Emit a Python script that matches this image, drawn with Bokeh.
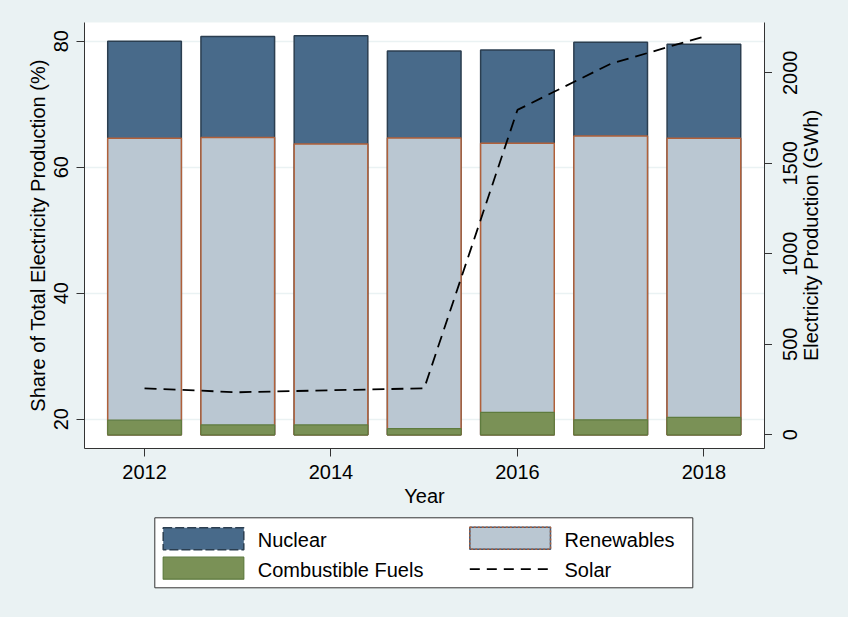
import math
from bokeh.plotting import figure
from bokeh.models import ColumnDataSource, Range1d, LinearAxis, FixedTicker
from bokeh.layouts import column, row
from bokeh.core.properties import value
from bokeh.embed import file_html
from bokeh.resources import INLINE

# ---------------- data ----------------
years = [2012, 2013, 2014, 2015, 2016, 2017, 2018]
nuclear = [80.0, 80.75, 80.85, 78.45, 78.6, 79.85, 79.5]
renewables = [64.6, 64.7, 63.7, 64.65, 63.8, 64.95, 64.6]
combustible = [19.85, 19.1, 19.1, 18.5, 21.1, 19.9, 20.3]
solar = [257, 235, 246, 257, 1795, 2050, 2200]

x_ticks = [2012, 2014, 2016, 2018]
left_ticks = [20, 40, 60, 80]
right_ticks = [0, 500, 1000, 1500, 2000]

right_title = "Electricity Production (GWh)"
legend_labels = ["Nuclear", "Renewables", "Combustible Fuels", "Solar"]

# ---------------- styles ----------------
BG = "#EAF2F3"
FONT = "Liberation Sans"
FS = "20px"
AX = "#333333"
C_NUC, L_NUC = "#486A8A", "#2B3E50"
C_REN, L_REN = "#BAC7D2", "#B0603A"
C_COM, L_COM = "#7A9156", "#5E7B3E"
BAR_BASE = 17.52
BAR_W = 0.79

src = ColumnDataSource(dict(year=years, nuclear=nuclear, renewables=renewables,
                            combustible=combustible, solar=solar))
gwh = Range1d(-75.7, 2278)

p = figure(frame_width=680, frame_height=426,
           x_range=Range1d(2011.356, 2018.65), y_range=Range1d(15.35, 82.97),
           min_border_left=84, min_border_right=0, min_border_top=22, min_border_bottom=64,
           output_backend="svg", toolbar_location=None,
           background_fill_color="white", border_fill_color=BG, outline_line_color=None)
p.extra_y_ranges = {"gwh": gwh}

p.vbar(x="year", top="nuclear", bottom=BAR_BASE, width=BAR_W, source=src,
       fill_color=C_NUC, line_color=L_NUC, line_width=1.5)
p.vbar(x="year", top="renewables", bottom=BAR_BASE, width=BAR_W, source=src,
       fill_color=C_REN, line_color=L_REN, line_width=1.5)
p.vbar(x="year", top="combustible", bottom=BAR_BASE, width=BAR_W, source=src,
       fill_color=C_COM, line_color=L_COM, line_width=1.2)
p.line(x="year", y="solar", source=src, y_range_name="gwh",
       line_color="black", line_width=1.8, line_dash="12 7")

p.xgrid.visible = False
p.ygrid.grid_line_color = BG
p.ygrid.grid_line_width = 1.5

ra = LinearAxis(y_range_name="gwh", ticker=FixedTicker(ticks=right_ticks),
                major_label_overrides={t: "" for t in right_ticks},
                major_label_standoff=0, axis_label_standoff=0)
p.add_layout(ra, "right")

xa = p.below[0]
la = p.left[0]
xa.ticker = FixedTicker(ticks=x_ticks)
la.ticker = FixedTicker(ticks=left_ticks)
xa.axis_label = "Year"
la.axis_label = "Share of Total Electricity Production (%)"

for ax in (xa, la, ra):
    ax.axis_line_color = AX
    ax.major_tick_line_color = AX
    ax.major_tick_out = 8
    ax.major_tick_in = 0
    ax.minor_tick_line_color = None
    ax.major_label_text_font = FONT
    ax.major_label_text_font_size = FS
    ax.major_label_text_color = "black"
    ax.axis_label_text_font = FONT
    ax.axis_label_text_font_size = FS
    ax.axis_label_text_font_style = "normal"
    ax.axis_label_text_color = "black"

xa.major_label_standoff = 8
xa.axis_label_standoff = 3
la.major_label_orientation = "vertical"
la.major_label_standoff = 8
la.axis_label_standoff = 3

# ---------------- right margin panel: right-axis labels read bottom-to-top ----------------
side = figure(frame_width=76, frame_height=426, x_range=Range1d(772, 848), y_range=gwh,
              x_axis_type=None, y_axis_type=None,
              min_border_left=0, min_border_right=0, min_border_top=22, min_border_bottom=64,
              output_backend="svg", toolbar_location=None,
              background_fill_color=BG, border_fill_color=BG, outline_line_color=None)
side.xgrid.visible = False
side.ygrid.visible = False
side.text(x=[789.0] * len(right_ticks), y=right_ticks, text=[str(t) for t in right_ticks],
          angle=math.pi / 2, text_font=value(FONT), text_font_size=FS, text_color="black",
          text_align="center", text_baseline="middle")
side.text(x=[810.0], y=[(gwh.start + gwh.end) / 2], text=[right_title],
          angle=math.pi / 2, text_font=value(FONT), text_font_size=FS, text_color="black",
          text_align="center", text_baseline="middle")

# ---------------- legend panel (frame aligned with the plot) ----------------
leg = figure(frame_width=680, frame_height=105, x_range=Range1d(84, 764), y_range=Range1d(617, 512),
             x_axis_type=None, y_axis_type=None,
             min_border_left=84, min_border_right=84, min_border_top=0, min_border_bottom=0,
             output_backend="svg", toolbar_location=None,
             background_fill_color=BG, border_fill_color=BG, outline_line_color=None)
leg.xgrid.visible = False
leg.ygrid.visible = False

leg.quad(left=[154.3], right=[692.3], top=[517.3], bottom=[587.3],
         fill_color="white", line_color=AX, line_width=1)
leg.quad(left=[162.7], right=[243.3], top=[527.3], bottom=[549.3],
         fill_color=C_NUC, line_color=L_NUC, line_width=1.5, line_dash="9 3")
leg.quad(left=[162.7], right=[243.3], top=[556.7], bottom=[578.7],
         fill_color=C_COM, line_color=L_COM, line_width=1.2)
leg.quad(left=[469.3], right=[550.0], top=[526.7], bottom=[548.7],
         fill_color=C_REN, line_color="#3E5A78", line_width=1.5)
leg.quad(left=[469.3], right=[550.0], top=[526.7], bottom=[548.7],
         fill_color=None, line_color=L_REN, line_width=1.5, line_dash="2 2")
leg.segment(x0=[469.3], x1=[550.0], y0=[568.7], y1=[568.7],
            line_color="black", line_width=1.8, line_dash="10 7")
leg.text(x=[257.3, 564.0, 257.3, 564.0], y=[539.4, 539.4, 569.0, 569.0], text=legend_labels,
         text_font=value(FONT), text_font_size=FS, text_color="black",
         text_align="left", text_baseline="middle")

layout = column(row(p, side, styles={"background-color": BG}), leg,
                styles={"background-color": BG})
open("out.html", "w").write(file_html(layout, INLINE))
